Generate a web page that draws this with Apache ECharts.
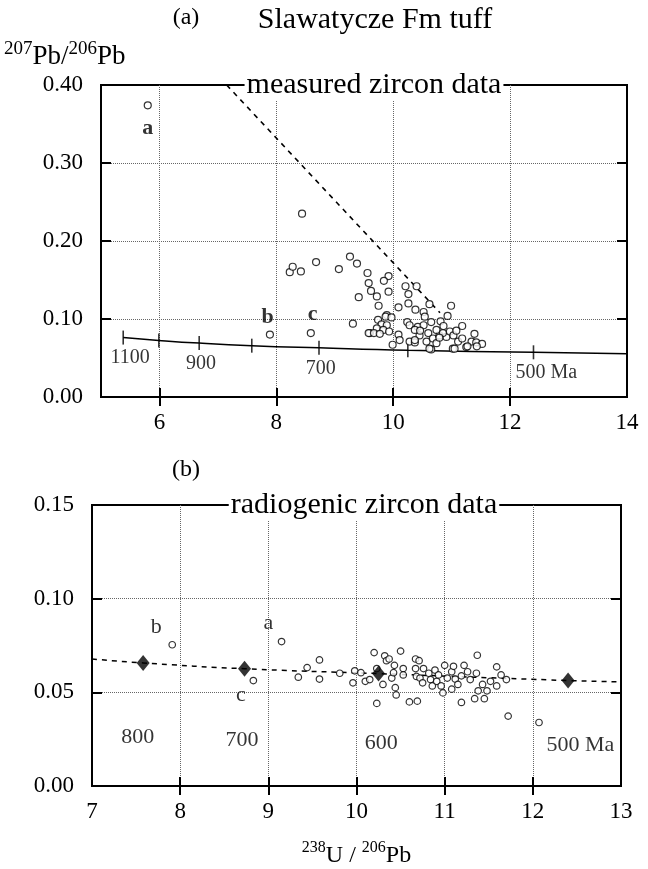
<!DOCTYPE html>
<html>
<head>
<meta charset="utf-8">
<script src="https://cdn.jsdelivr.net/npm/echarts@6/dist/echarts.min.js"></script>
<style>
  html, body { margin: 0; padding: 0; background: #fff; }
  #main { width: 648px; height: 869px; }
</style>
</head>
<body>
<div id="main"></div>
<script>
var FONT = '"Liberation Serif", "DejaVu Serif", serif'

// ---- panel (a): measured zircon data ----
var measuredPts = [
  [5.80, 0.374], [8.44, 0.235],
  [8.23, 0.160], [8.28, 0.167], [8.42, 0.161], [8.68, 0.173],
  [9.26, 0.180], [9.38, 0.171], [9.07, 0.164],
  [9.56, 0.159], [9.92, 0.155], [9.84, 0.149], [9.58, 0.146],
  [9.62, 0.136], [9.92, 0.135], [9.72, 0.129], [9.41, 0.128],
  [10.21, 0.142], [10.40, 0.142], [10.26, 0.132],
  [9.75, 0.117], [10.09, 0.115], [10.26, 0.120], [10.62, 0.119], [10.99, 0.117],
  [10.38, 0.112], [10.52, 0.109], [10.54, 0.103], [10.93, 0.104], [9.89, 0.105],
  [9.31, 0.094], [8.59, 0.082], [7.89, 0.080], [9.60, 0.082],
  [9.74, 0.099], [9.87, 0.103], [9.97, 0.102], [9.80, 0.093], [9.89, 0.092],
  [9.72, 0.088], [9.83, 0.086], [9.58, 0.082], [9.67, 0.082], [9.77, 0.081],
  [9.93, 0.084], [10.09, 0.080],
  [10.24, 0.096], [10.28, 0.092], [10.42, 0.090], [10.52, 0.092], [10.65, 0.096],
  [10.81, 0.097], [10.86, 0.091], [11.18, 0.091],
  [10.11, 0.073], [9.99, 0.067], [10.28, 0.071], [10.37, 0.070], [10.45, 0.079],
  [10.60, 0.082], [10.57, 0.071], [10.68, 0.075], [10.74, 0.069], [10.65, 0.061],
  [10.79, 0.079], [10.91, 0.077], [10.97, 0.084], [11.03, 0.079], [11.08, 0.085],
  [11.11, 0.071], [11.02, 0.062], [11.18, 0.075], [11.25, 0.064], [11.34, 0.071],
  [11.39, 0.081], [11.42, 0.070], [11.52, 0.068],
  [10.37, 0.086], [10.46, 0.085], [10.74, 0.086], [10.85, 0.082],
  [10.62, 0.062], [11.05, 0.062], [11.27, 0.065], [11.43, 0.065],
  [10.37, 0.073], [10.79, 0.076]
]
var concordiaLineA = [
  [5.38, 0.0762], [5.99, 0.0725], [6.68, 0.0691], [7.58, 0.0658],
  [8.73, 0.0630], [10.25, 0.0599], [12.40, 0.0573], [14.0, 0.0556]
]
var concordiaTickA = [
  [5.38, 0.0762], [5.99, 0.0725], [6.68, 0.0691], [7.58, 0.0658],
  [8.73, 0.0630], [10.25, 0.0599], [12.40, 0.0573]
]
var ageLabelA = ['1100', '900', '700', '500 Ma']
var ageLabelPosA = [[5.50, 0.050], [6.71, 0.042], [8.76, 0.036], [12.62, 0.031]]
var dashLineA = [[7.15, 0.40], [10.80, 0.108]]
var letterA = ['a', 'b', 'c']
var letterPosA = [[5.80, 0.345], [7.85, 0.102], [8.62, 0.106]]
var xTicksA = [6, 8, 10, 12, 14]
var yTicksA = [0, 0.1, 0.2, 0.3, 0.4]

// ---- panel (b): radiogenic zircon data ----
var radiogenicPts = [
  [7.91, 0.0754], [9.15, 0.0771], [8.83, 0.0563], [9.34, 0.0581], [9.44, 0.0632],
  [9.58, 0.0673], [9.58, 0.0571], [9.81, 0.0602], [9.98, 0.0615], [9.96, 0.0551],
  [10.05, 0.0605], [10.10, 0.0559], [10.15, 0.0568], [10.20, 0.0712], [10.23, 0.0441],
  [10.23, 0.0627], [10.30, 0.0542], [10.32, 0.0695], [10.34, 0.0669], [10.37, 0.0678],
  [10.40, 0.0576], [10.43, 0.0644], [10.44, 0.0525], [10.42, 0.0605], [10.45, 0.0486],
  [10.50, 0.0720], [10.53, 0.0627], [10.53, 0.0593], [10.60, 0.0449], [10.67, 0.0678],
  [10.67, 0.0627], [10.69, 0.0453], [10.68, 0.0585], [10.71, 0.0669], [10.72, 0.0576],
  [10.76, 0.0627], [10.75, 0.0551], [10.82, 0.0602], [10.84, 0.0568], [10.86, 0.0534],
  [10.89, 0.0619], [10.91, 0.0559], [10.93, 0.0593], [10.96, 0.0534], [10.98, 0.0497],
  [11.00, 0.0644], [11.03, 0.0576], [11.08, 0.0610], [11.10, 0.0639], [11.12, 0.0571],
  [11.15, 0.0542], [11.19, 0.0446], [11.19, 0.0588], [11.22, 0.0644], [11.26, 0.0610],
  [11.29, 0.0568], [11.34, 0.0466], [11.36, 0.0602], [11.37, 0.0698], [11.38, 0.0508],
  [11.43, 0.0542], [11.45, 0.0466], [11.48, 0.0508], [11.52, 0.0559], [11.59, 0.0636],
  [11.64, 0.0593], [11.59, 0.0534], [11.70, 0.0568], [11.72, 0.0373], [12.07, 0.0339],
  [11.08, 0.0517]
]
var concordiaAgeB = [[7.58, 0.0657], [8.73, 0.0626], [10.25, 0.0600], [12.40, 0.0563]]
var dashLineB = [[7.0, 0.0678], [7.58, 0.0657], [8.73, 0.0626], [10.25, 0.0600], [12.40, 0.0563], [13.0, 0.0556]]
var ageLabelB = ['800', '700', '600', '500 Ma']
var ageLabelPosB = [[7.52, 0.0263], [8.70, 0.0242], [10.28, 0.0229], [12.54, 0.0217]]
var letterB = ['b', 'a', 'c']
var letterPosB = [[7.73, 0.0847], [9.00, 0.0869], [8.69, 0.0483]]
var xTicksB = [7, 8, 9, 10, 11, 12, 13]
var yTicksB = [0, 0.05, 0.10, 0.15]

function labelData(names, pos) {
  return names.map(function (n, i) { return { name: n, value: pos[i] } })
}

var chart = echarts.init(document.getElementById('main'), null, { renderer: 'canvas' })

var gridLine = { show: true, lineStyle: { color: '#666', type: 'dotted', width: 1 } }
var axisLine = { show: true, onZero: false, lineStyle: { color: '#000', width: 2 } }
var labelStyle = { color: '#000', fontFamily: FONT, fontSize: 23 }

function xAxisPair(grid, min, max, ticks, labels) {
  return [{
    gridIndex: grid, type: 'value', min: min, max: max, position: 'bottom',
    axisLine: axisLine,
    axisTick: { show: true, inside: false, length: 9, customValues: ticks, lineStyle: { color: '#000', width: 2 } },
    axisLabel: Object.assign({ customValues: labels, margin: 14 }, labelStyle),
    splitLine: gridLine
  }, {
    // inner half of the crossing ticks
    gridIndex: grid, type: 'value', min: min, max: max, position: 'bottom', offset: 0,
    axisLine: { show: false },
    axisTick: { show: true, inside: true, length: 9, customValues: ticks, lineStyle: { color: '#000', width: 2 } },
    axisLabel: { show: false }, splitLine: { show: false }
  }]
}

function yAxisPair(grid, min, max, ticks, labels, digits) {
  return [{
    gridIndex: grid, type: 'value', min: min, max: max, position: 'left',
    axisLine: axisLine,
    axisTick: { show: true, inside: true, length: 10, customValues: ticks, lineStyle: { color: '#000', width: 2 } },
    axisLabel: Object.assign({ customValues: labels, margin: 18, formatter: function (v) { return v.toFixed(digits) } }, labelStyle),
    splitLine: gridLine
  }, {
    gridIndex: grid, type: 'value', min: min, max: max, position: 'right',
    axisLine: axisLine,
    axisTick: { show: true, inside: true, length: 10, customValues: ticks, lineStyle: { color: '#000', width: 2 } },
    axisLabel: { show: false }, splitLine: { show: false }
  }]
}

var supRich = {
  s: { fontFamily: FONT, fontSize: 19, verticalAlign: 'top', lineHeight: 30, color: '#000', fill: '#000' },
  n: { fontFamily: FONT, fontSize: 27, verticalAlign: 'bottom', lineHeight: 30, color: '#000', fill: '#000' }
}

var xAxes = xAxisPair(0, 5, 14, [6, 8, 10, 12], xTicksA)
  .concat(xAxisPair(1, 7, 13, [8, 9, 10, 11, 12], xTicksB))
xAxes[2].name = '{s|238}{n|U / }{s|206}{n|Pb}'
xAxes[2].nameLocation = 'middle'
xAxes[2].nameGap = 54
xAxes[2].nameTextStyle = {
  fontFamily: FONT, color: '#000',
  rich: {
    s: { fontFamily: FONT, fontSize: 16, verticalAlign: 'top', lineHeight: 28, color: '#000' },
    n: { fontFamily: FONT, fontSize: 24, verticalAlign: 'bottom', lineHeight: 28, color: '#000' }
  }
}

var yAxes = yAxisPair(0, 0, 0.4, [0.1, 0.2, 0.3], yTicksA, 2)
  .concat(yAxisPair(1, 0, 0.15, [0.05, 0.10], yTicksB, 2))

var circle = { color: '#fff', borderColor: '#000', borderWidth: 1.2 }
var textLabel = function (size) {
  return { show: true, position: 'inside', formatter: '{b}', color: '#000', fontFamily: FONT, fontSize: size }
}

var option = {
  animation: false,
  backgroundColor: '#fff',
  grid: [
    { left: 101, top: 85, width: 526, height: 312, show: true, borderColor: '#000', borderWidth: 2, backgroundColor: 'transparent' },
    { left: 92, top: 505, width: 529, height: 297, show: true, borderColor: '#000', borderWidth: 2, backgroundColor: 'transparent' }
  ],
  xAxis: xAxes,
  yAxis: yAxes,
  graphic: [
    { type: 'text', x: 186, y: 18, style: { text: '(a)', font: '24px ' + FONT, fill: '#000', align: 'center', verticalAlign: 'middle' } },
    { type: 'text', x: 375, y: 20, style: { text: 'Slawatycze Fm tuff', font: '30px ' + FONT, fill: '#000', align: 'center', verticalAlign: 'middle' } },
    { type: 'text', x: 186, y: 470, style: { text: '(b)', font: '24px ' + FONT, fill: '#000', align: 'center', verticalAlign: 'middle' } },
    {
      type: 'text', left: 4, top: 40,
      style: { text: '{s|207}{n|Pb/}{s|206}{n|Pb}', rich: supRich }
    },
    {
      type: 'text', x: 374, y: 85, z: 100,
      style: { text: 'measured zircon data', font: '30px ' + FONT, fill: '#000', align: 'center', verticalAlign: 'middle', backgroundColor: '#fff', padding: [0, 2] }
    },
    {
      type: 'text', x: 364, y: 505, z: 100,
      style: { text: 'radiogenic zircon data', font: '30px ' + FONT, fill: '#000', align: 'center', verticalAlign: 'middle', backgroundColor: '#fff', padding: [0, 2] }
    }
  ],
  series: [
    // panel (a)
    { type: 'line', xAxisIndex: 0, yAxisIndex: 0, data: concordiaLineA, smooth: true, showSymbol: false, symbol: 'none',
      lineStyle: { color: '#000', width: 1.5 }, z: 2 },
    { type: 'scatter', xAxisIndex: 0, yAxisIndex: 0, data: concordiaTickA, symbol: 'rect', symbolSize: [1.6, 14],
      itemStyle: { color: '#000' }, z: 2 },
    { type: 'line', xAxisIndex: 0, yAxisIndex: 0, data: dashLineA, showSymbol: false, symbol: 'none',
      lineStyle: { color: '#000', width: 1.6, type: [5, 5] }, z: 2 },
    { type: 'scatter', xAxisIndex: 0, yAxisIndex: 0, data: measuredPts, symbol: 'circle', symbolSize: 7,
      itemStyle: circle, z: 3 },
    { type: 'scatter', xAxisIndex: 0, yAxisIndex: 0, data: labelData(ageLabelA, ageLabelPosA), symbolSize: 1,
      itemStyle: { color: 'rgba(0,0,0,0)' }, label: textLabel(20), z: 4 },
    { type: 'scatter', xAxisIndex: 0, yAxisIndex: 0, data: labelData(letterA, letterPosA), symbolSize: 1,
      itemStyle: { color: 'rgba(0,0,0,0)' }, label: Object.assign(textLabel(22), { fontWeight: 'bold' }), z: 4 },

    // panel (b)
    { type: 'line', xAxisIndex: 2, yAxisIndex: 2, data: dashLineB, smooth: true, showSymbol: false, symbol: 'none',
      lineStyle: { color: '#000', width: 1.5, type: [5, 5] }, z: 2 },
    { type: 'scatter', xAxisIndex: 2, yAxisIndex: 2, data: radiogenicPts, symbol: 'circle', symbolSize: 6.5,
      itemStyle: circle, z: 3 },
    { type: 'scatter', xAxisIndex: 2, yAxisIndex: 2, data: concordiaAgeB, symbol: 'diamond', symbolSize: [13, 16],
      itemStyle: { color: '#000' }, z: 4 },
    { type: 'scatter', xAxisIndex: 2, yAxisIndex: 2, data: labelData(ageLabelB, ageLabelPosB), symbolSize: 1,
      itemStyle: { color: 'rgba(0,0,0,0)' }, label: textLabel(22), z: 4 },
    { type: 'scatter', xAxisIndex: 2, yAxisIndex: 2, data: labelData(letterB, letterPosB), symbolSize: 1,
      itemStyle: { color: 'rgba(0,0,0,0)' }, label: textLabel(22), z: 4 }
  ]
}

chart.setOption(option)
</script>
</body>
</html>
